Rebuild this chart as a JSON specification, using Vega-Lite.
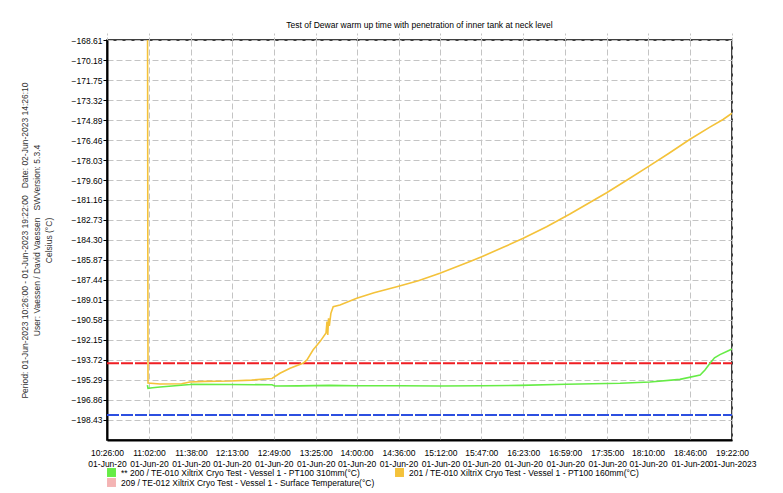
{
  "$schema": "https://vega.github.io/schema/vega-lite/v6.json",
  "autosize": {"type": "none"},
  "width": 625,
  "height": 400,
  "padding": {"left": 107, "top": 40, "right": 51, "bottom": 53},
  "background": "white",
  "title": {
    "text": "Test of Dewar warm up time with penetration of inner tank at neck level",
    "font": "Liberation Sans",
    "fontSize": 8.5,
    "fontWeight": "normal",
    "color": "#000",
    "offset": 3
  },
  "config": {
    "font": "Liberation Sans",
    "view": {"stroke": "#000", "strokeWidth": 1.5},
    "axis": {
      "labelFont": "Liberation Sans",
      "labelFontSize": 8.5,
      "labelColor": "#000",
      "titleFont": "Liberation Sans",
      "titleFontSize": 8.5,
      "titleFontWeight": "normal",
      "titleColor": "#333"
    }
  },
  "datasets": {
    "temps": [
      {"time": "2023-06-01T11:00:40", "value": -160.0, "series": "201"},
      {"time": "2023-06-01T11:01:10", "value": -195.53, "series": "201"},
      {"time": "2023-06-01T11:11:30", "value": -195.6, "series": "201"},
      {"time": "2023-06-01T11:30:00", "value": -195.58, "series": "201"},
      {"time": "2023-06-01T11:37:10", "value": -195.45, "series": "201"},
      {"time": "2023-06-01T11:50:00", "value": -195.4, "series": "201"},
      {"time": "2023-06-01T12:11:30", "value": -195.37, "series": "201"},
      {"time": "2023-06-01T12:30:00", "value": -195.3, "series": "201"},
      {"time": "2023-06-01T12:47:30", "value": -195.17, "series": "201"},
      {"time": "2023-06-01T12:54:20", "value": -194.76, "series": "201"},
      {"time": "2023-06-01T13:03:00", "value": -194.37, "series": "201"},
      {"time": "2023-06-01T13:14:00", "value": -193.98, "series": "201"},
      {"time": "2023-06-01T13:17:30", "value": -193.72, "series": "201"},
      {"time": "2023-06-01T13:22:40", "value": -192.94, "series": "201"},
      {"time": "2023-06-01T13:28:40", "value": -192.28, "series": "201"},
      {"time": "2023-06-01T13:33:50", "value": -191.6, "series": "201"},
      {"time": "2023-06-01T13:34:40", "value": -190.7, "series": "201"},
      {"time": "2023-06-01T13:35:20", "value": -191.75, "series": "201"},
      {"time": "2023-06-01T13:36:00", "value": -190.45, "series": "201"},
      {"time": "2023-06-01T13:36:40", "value": -191.05, "series": "201"},
      {"time": "2023-06-01T13:38:00", "value": -190.06, "series": "201"},
      {"time": "2023-06-01T13:40:00", "value": -189.54, "series": "201"},
      {"time": "2023-06-01T13:45:50", "value": -189.41, "series": "201"},
      {"time": "2023-06-01T14:00:10", "value": -188.88, "series": "201"},
      {"time": "2023-06-01T14:15:00", "value": -188.45, "series": "201"},
      {"time": "2023-06-01T14:34:30", "value": -187.97, "series": "201"},
      {"time": "2023-06-01T14:53:00", "value": -187.5, "series": "201"},
      {"time": "2023-06-01T15:11:30", "value": -186.92, "series": "201"},
      {"time": "2023-06-01T15:37:20", "value": -186.0, "series": "201"},
      {"time": "2023-06-01T15:47:20", "value": -185.62, "series": "201"},
      {"time": "2023-06-01T16:05:50", "value": -184.88, "series": "201"},
      {"time": "2023-06-01T16:23:00", "value": -184.17, "series": "201"},
      {"time": "2023-06-01T16:43:00", "value": -183.26, "series": "201"},
      {"time": "2023-06-01T17:03:00", "value": -182.26, "series": "201"},
      {"time": "2023-06-01T17:23:00", "value": -181.2, "series": "201"},
      {"time": "2023-06-01T17:34:30", "value": -180.6, "series": "201"},
      {"time": "2023-06-01T17:51:40", "value": -179.62, "series": "201"},
      {"time": "2023-06-01T18:10:10", "value": -178.55, "series": "201"},
      {"time": "2023-06-01T18:28:00", "value": -177.5, "series": "201"},
      {"time": "2023-06-01T18:46:00", "value": -176.4, "series": "201"},
      {"time": "2023-06-01T19:03:00", "value": -175.45, "series": "201"},
      {"time": "2023-06-01T19:14:20", "value": -174.85, "series": "201"},
      {"time": "2023-06-01T19:22:00", "value": -174.35, "series": "201"},
      {"time": "2023-06-01T11:00:40", "value": -195.7, "series": "200"},
      {"time": "2023-06-01T11:01:10", "value": -195.95, "series": "200"},
      {"time": "2023-06-01T11:05:00", "value": -195.9, "series": "200"},
      {"time": "2023-06-01T11:11:30", "value": -195.84, "series": "200"},
      {"time": "2023-06-01T11:37:10", "value": -195.64, "series": "200"},
      {"time": "2023-06-01T11:38:00", "value": -195.62, "series": "200"},
      {"time": "2023-06-01T12:11:30", "value": -195.64, "series": "200"},
      {"time": "2023-06-01T12:47:30", "value": -195.67, "series": "200"},
      {"time": "2023-06-01T12:50:00", "value": -195.76, "series": "200"},
      {"time": "2023-06-01T13:10:00", "value": -195.75, "series": "200"},
      {"time": "2023-06-01T13:37:00", "value": -195.71, "series": "200"},
      {"time": "2023-06-01T14:00:00", "value": -195.74, "series": "200"},
      {"time": "2023-06-01T14:37:20", "value": -195.74, "series": "200"},
      {"time": "2023-06-01T15:11:30", "value": -195.76, "series": "200"},
      {"time": "2023-06-01T15:47:00", "value": -195.74, "series": "200"},
      {"time": "2023-06-01T16:20:10", "value": -195.71, "series": "200"},
      {"time": "2023-06-01T16:59:30", "value": -195.63, "series": "200"},
      {"time": "2023-06-01T17:46:00", "value": -195.55, "series": "200"},
      {"time": "2023-06-01T18:11:40", "value": -195.45, "series": "200"},
      {"time": "2023-06-01T18:37:20", "value": -195.24, "series": "200"},
      {"time": "2023-06-01T18:54:40", "value": -194.9, "series": "200"},
      {"time": "2023-06-01T18:58:50", "value": -194.51, "series": "200"},
      {"time": "2023-06-01T19:03:10", "value": -193.98, "series": "200"},
      {"time": "2023-06-01T19:07:00", "value": -193.55, "series": "200"},
      {"time": "2023-06-01T19:11:40", "value": -193.3, "series": "200"},
      {"time": "2023-06-01T19:22:00", "value": -192.86, "series": "200"}
    ],
    "limits": [
      {"limit": "high", "value": -193.97, "start": "2023-06-01T10:26:00", "end": "2023-06-01T19:22:00"},
      {"limit": "low", "value": -198.04, "start": "2023-06-01T10:26:00", "end": "2023-06-01T19:22:00"}
    ]
  },
  "encoding": {
    "y": {
      "field": "value",
      "type": "quantitative",
      "scale": {"domain": [-200, -168.61], "nice": false, "zero": false},
      "axis": {
        "values": [-168.61, -170.18, -171.75, -173.32, -174.89, -176.46, -178.03, -179.6, -181.16, -182.73, -184.3, -185.87, -187.44, -189.01, -190.58, -192.15, -193.72, -195.29, -196.86, -198.43],
        "format": ".2f",
        "title": [
          "Period: 01-Jun-2023 10:26:00 - 01-Jun-2023 19:22:00\u00a0\u00a0\u00a0Date: 02-Jun-2023 14:26:10",
          "User: Vaessen / David Vaessen\u00a0\u00a0\u00a0SWVersion: 5.3.4",
          "Celsius (°C)"
        ],
        "titleLineHeight": 12,
        "titlePadding": 18,
        "tickSize": 4,
        "tickColor": "#000",
        "labelPadding": 1,
        "domainColor": "#000",
        "domainWidth": 2,
        "grid": true,
        "gridColor": "#c4c4c4",
        "gridDash": [6, 3],
        "labelOverlap": false
      }
    }
  },
  "layer": [
    {
      "data": {"name": "limits"},
      "mark": {"type": "rule", "strokeWidth": 2, "strokeDash": [12, 2]},
      "encoding": {
        "x": {
          "field": "start",
          "type": "temporal",
          "scale": {"domain": [
            {"year": 2023, "month": 6, "date": 1, "hours": 10, "minutes": 26},
            {"year": 2023, "month": 6, "date": 1, "hours": 19, "minutes": 22}
          ]},
          "axis": {
            "orient": "top",
            "title": null,
            "labels": false,
            "domain": false,
            "grid": false,
            "ticks": true,
            "tickSize": 7,
            "tickColor": "#c4c4c4",
            "tickDash": [3, 2],
            "values": [
              {"year": 2023, "month": 6, "date": 1, "hours": 10, "minutes": 26},
              {"year": 2023, "month": 6, "date": 1, "hours": 11, "minutes": 2},
              {"year": 2023, "month": 6, "date": 1, "hours": 11, "minutes": 38},
              {"year": 2023, "month": 6, "date": 1, "hours": 12, "minutes": 13},
              {"year": 2023, "month": 6, "date": 1, "hours": 12, "minutes": 49},
              {"year": 2023, "month": 6, "date": 1, "hours": 13, "minutes": 25},
              {"year": 2023, "month": 6, "date": 1, "hours": 14, "minutes": 0},
              {"year": 2023, "month": 6, "date": 1, "hours": 14, "minutes": 36},
              {"year": 2023, "month": 6, "date": 1, "hours": 15, "minutes": 12},
              {"year": 2023, "month": 6, "date": 1, "hours": 15, "minutes": 47},
              {"year": 2023, "month": 6, "date": 1, "hours": 16, "minutes": 23},
              {"year": 2023, "month": 6, "date": 1, "hours": 16, "minutes": 59},
              {"year": 2023, "month": 6, "date": 1, "hours": 17, "minutes": 35},
              {"year": 2023, "month": 6, "date": 1, "hours": 18, "minutes": 10},
              {"year": 2023, "month": 6, "date": 1, "hours": 18, "minutes": 46},
              {"year": 2023, "month": 6, "date": 1, "hours": 19, "minutes": 22}
            ]
          }
        },
        "x2": {"field": "end"},
        "stroke": {
          "field": "limit",
          "type": "nominal",
          "scale": {"domain": ["high", "low"], "range": ["#f01e23", "#2c4fe0"]},
          "legend": null
        }
      }
    },
    {
      "data": {"name": "temps"},
      "mark": {"type": "line", "strokeWidth": 1.6, "clip": true},
      "encoding": {
        "x": {
          "field": "time",
          "type": "temporal",
          "scale": {"domain": [
            {"year": 2023, "month": 6, "date": 1, "hours": 10, "minutes": 26},
            {"year": 2023, "month": 6, "date": 1, "hours": 19, "minutes": 22}
          ]},
          "axis": {
            "orient": "bottom",
            "title": null,
            "ticks": false,
            "tickSize": 0,
            "labelPadding": 8,
            "labelLineHeight": 11,
            "labelOverlap": false,
            "labelFlush": false,
            "labelBound": false,
            "domainColor": "#000",
            "domainWidth": 2,
            "grid": true,
            "gridColor": "#c4c4c4",
            "gridDash": [6, 3],
            "labelExpr": "[timeFormat(datum.value, '%H:%M:%S'), datum.value >= datetime(2023, 5, 1, 19, 0) ? '01-Jun-2023' : '01-Jun-20']",
            "values": [
              {"year": 2023, "month": 6, "date": 1, "hours": 10, "minutes": 26},
              {"year": 2023, "month": 6, "date": 1, "hours": 11, "minutes": 2},
              {"year": 2023, "month": 6, "date": 1, "hours": 11, "minutes": 38},
              {"year": 2023, "month": 6, "date": 1, "hours": 12, "minutes": 13},
              {"year": 2023, "month": 6, "date": 1, "hours": 12, "minutes": 49},
              {"year": 2023, "month": 6, "date": 1, "hours": 13, "minutes": 25},
              {"year": 2023, "month": 6, "date": 1, "hours": 14, "minutes": 0},
              {"year": 2023, "month": 6, "date": 1, "hours": 14, "minutes": 36},
              {"year": 2023, "month": 6, "date": 1, "hours": 15, "minutes": 12},
              {"year": 2023, "month": 6, "date": 1, "hours": 15, "minutes": 47},
              {"year": 2023, "month": 6, "date": 1, "hours": 16, "minutes": 23},
              {"year": 2023, "month": 6, "date": 1, "hours": 16, "minutes": 59},
              {"year": 2023, "month": 6, "date": 1, "hours": 17, "minutes": 35},
              {"year": 2023, "month": 6, "date": 1, "hours": 18, "minutes": 10},
              {"year": 2023, "month": 6, "date": 1, "hours": 18, "minutes": 46},
              {"year": 2023, "month": 6, "date": 1, "hours": 19, "minutes": 22}
            ]
          }
        },
        "color": {
          "field": "series",
          "type": "nominal",
          "scale": {"domain": ["200", "201", "209"], "range": ["#66ec46", "#f4c23a", "#f4b4b4"]},
          "legend": {
            "orient": "none",
            "direction": "horizontal",
            "legendX": 0,
            "legendY": 428,
            "columns": 2,
            "columnPadding": 20,
            "rowPadding": 1,
            "title": null,
            "symbolType": "square",
            "symbolSize": 80,
            "symbolStrokeWidth": 0,
            "labelFont": "Liberation Sans",
            "labelFontSize": 8.5,
            "labelColor": "#000",
            "labelLimit": 400,
            "labelOffset": 5,
            "labelExpr": "datum.value == '200' ? '** 200 / TE-010 XiltriX Cryo Test - Vessel 1 - PT100 310mm(°C)' : datum.value == '201' ? '201 / TE-010 XiltriX Cryo Test - Vessel 1 - PT100 160mm(°C)' : '209 / TE-012 XiltriX Cryo Test - Vessel 1 - Surface Temperature(°C)'",
            "encode": {
              "symbols": {"update": {"fill": {"scale": "color", "field": "value"}, "opacity": {"value": 1}}}
            }
          }
        }
      }
    }
  ],
  "resolve": {"axis": {"x": "independent"}}
}
